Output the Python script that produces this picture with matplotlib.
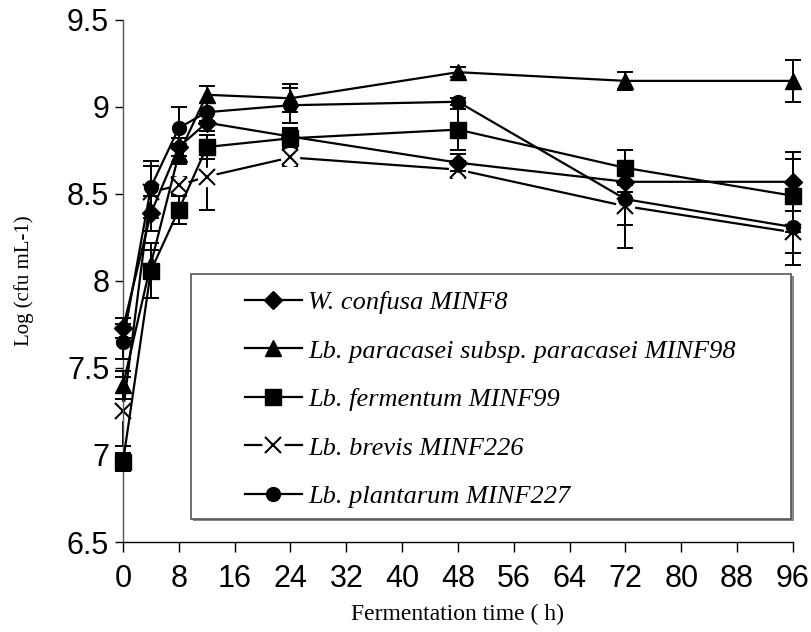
import matplotlib
matplotlib.use("Agg")
import matplotlib.pyplot as plt
from matplotlib.lines import Line2D
from matplotlib.patches import Rectangle
from matplotlib.legend_handler import HandlerTuple

# Sampling times (h)
time_h = [0, 4, 8, 12, 24, 48, 72, 96]

# Viable counts, Log (cfu mL-1), with standard deviations
w_confusa = [7.73, 8.39, 8.77, 8.91, 8.83, 8.68, 8.57, 8.57]
w_confusa_sd = [0.06, 0.10, 0.05, 0.05, 0.05, 0.05, 0.06, 0.17]

lb_paracasei = [7.40, 8.10, 8.73, 9.07, 9.05, 9.20, 9.15, 9.15]
lb_paracasei_sd = [0.08, 0.08, 0.06, 0.05, 0.08, 0.03, 0.05, 0.12]

lb_fermentum = [6.96, 8.06, 8.41, 8.77, 8.82, 8.87, 8.65, 8.49]
lb_fermentum_sd = [0.05, 0.16, 0.08, 0.07, 0.05, 0.12, 0.10, 0.21]

lb_brevis = [7.25, 8.51, 8.55, 8.60, 8.71, 8.64, 8.43, 8.28]
lb_brevis_sd = [0.20, 0.15, 0.05, 0.19, 0.05, 0.05, 0.24, 0.19]

lb_plantarum = [7.65, 8.54, 8.88, 8.97, 9.01, 9.03, 8.47, 8.31]
lb_plantarum_sd = [0.10, 0.15, 0.12, 0.05, 0.10, 0.02, 0.15, 0.15]

labels = [
    "W. confusa MINF8",
    "Lb. paracasei subsp. paracasei MINF98",
    "Lb. fermentum MINF99",
    "Lb. brevis MINF226",
    "Lb. plantarum MINF227",
]

x_ticks = list(range(0, 97, 8))
y_ticks = [6.5, 7, 7.5, 8, 8.5, 9, 9.5]

fig = plt.figure(figsize=(8.12, 6.32), dpi=100)
ax = fig.add_axes([0.1515, 0.1424, 0.825, 0.826])

lw = 1.6
err_kw = dict(ecolor="black", elinewidth=1.4, capsize=6, capthick=1.4)


def unclip(container):
    for art in container.get_children():
        art.set_clip_on(False)


# Lb. brevis drawn lowest; a white disc behind each cross leaves a gap in its line
unclip(ax.errorbar(time_h, lb_brevis, yerr=lb_brevis_sd, color="black", lw=lw,
                   fmt="-", zorder=2, **err_kw))
ax.plot(time_h, lb_brevis, linestyle="none", marker="o", ms=13,
        mfc="white", mec="white", zorder=2.1, clip_on=False)
ax.plot(time_h, lb_brevis, linestyle="none", marker="x", ms=12, mew=1.5,
        color="black", zorder=2.2, clip_on=False)

series = [
    (w_confusa, w_confusa_sd, "D", 9.5),
    (lb_paracasei, lb_paracasei_sd, "^", 11),
    (lb_fermentum, lb_fermentum_sd, "s", 11),
    (lb_plantarum, lb_plantarum_sd, "o", 10),
]
for i, (vals, sd, mk, ms) in enumerate(series):
    unclip(ax.errorbar(time_h, vals, yerr=sd, color="black", lw=lw, fmt="-",
                       marker=mk, ms=ms, mfc="black", mec="black",
                       zorder=3 + i, **err_kw))

ax.set_xlim(0, 96)
ax.set_ylim(6.5, 9.5)
ax.set_xticks(x_ticks)
ax.set_yticks(y_ticks)
ax.set_yticklabels(["6.5", "7", "7.5", "8", "8.5", "9", "9.5"])
ax.set_xticklabels([str(t) for t in x_ticks])

for s in ("top", "right"):
    ax.spines[s].set_visible(False)
ax.spines["bottom"].set_linewidth(1.0)
ax.spines["bottom"].set_color("black")
ax.spines["left"].set_linewidth(1.0)
ax.spines["left"].set_color("#555555")

ax.tick_params(axis="x", direction="out", length=7, width=1.0,
               labelsize=22, pad=9)
ax.tick_params(axis="y", direction="out", length=6, width=1.0,
               labelsize=22, pad=4)
for lab in ax.get_xticklabels() + ax.get_yticklabels():
    lab.set_fontfamily("Liberation Sans")

ax.set_xlabel("Fermentation time ( h)", fontfamily="Liberation Serif",
              fontsize=17, labelpad=7)
ax.set_ylabel("Log (cfu mL-1)", fontfamily="Liberation Serif",
              fontsize=15, labelpad=24)

# Legend frame with a shaded right edge
x0, y0, w, h = 0.101, 0.045, 0.896, 0.468
ax.add_patch(Rectangle((x0 + 0.004, y0 - 0.004), w, h, transform=ax.transAxes,
                       facecolor="#888888", edgecolor="none", zorder=9,
                       clip_on=False))
ax.add_patch(Rectangle((x0, y0), w, h, transform=ax.transAxes,
                       facecolor="white", edgecolor="#555555", lw=1.2,
                       zorder=10, clip_on=False))

handles = [
    Line2D([], [], color="black", lw=lw, marker="D", ms=9.5),
    Line2D([], [], color="black", lw=lw, marker="^", ms=11),
    Line2D([], [], color="black", lw=lw, marker="s", ms=11),
    (Line2D([], [], color="black", lw=lw, marker="o", ms=15, mfc="white",
            mec="white"),
     Line2D([], [], color="black", linestyle="none", marker="x", ms=12,
            mew=1.5)),
    Line2D([], [], color="black", lw=lw, marker="o", ms=10),
]
leg = ax.legend(handles, labels, loc="upper left",
                bbox_to_anchor=(0.1664, 0.502),
                frameon=False, handlelength=2.15, handletextpad=0.23,
                labelspacing=0.95, borderaxespad=0,
                prop=dict(family="Liberation Serif", style="italic", size=19),
                handler_map={tuple: HandlerTuple(ndivide=1)})
leg.set_zorder(11)

fig.savefig("out.png", dpi=100)
